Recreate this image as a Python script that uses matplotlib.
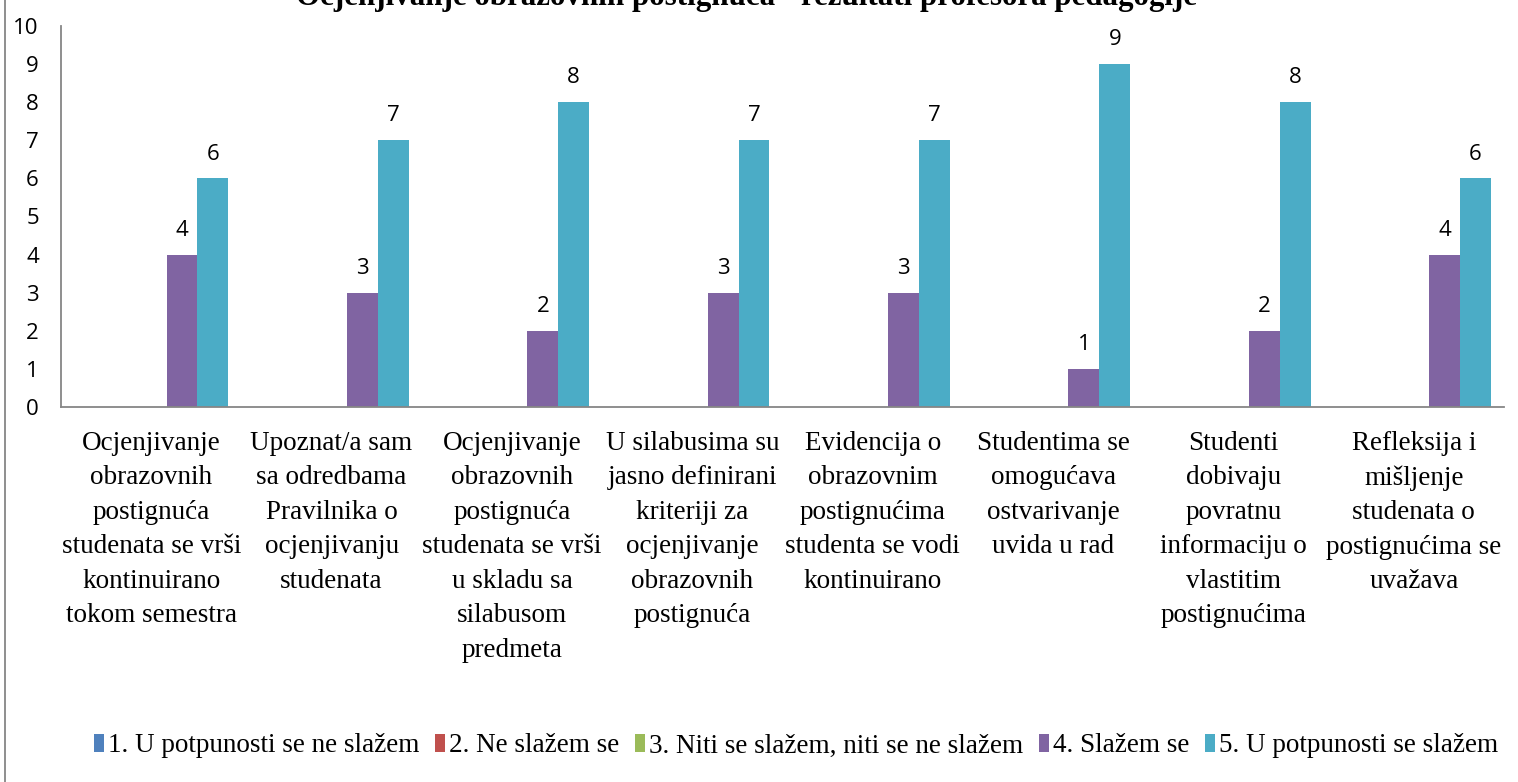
import matplotlib
matplotlib.use("Agg")
import matplotlib.pyplot as plt
import numpy as np
from matplotlib.patches import Patch
from matplotlib.lines import Line2D

categories = [
    "Ocjenjivanje\nobrazovnih\npostignuća\nstudenata se vrši\nkontinuirano\ntokom semestra",
    "Upoznat/a sam\nsa odredbama\nPravilnika o\nocjenjivanju\nstudenata",
    "Ocjenjivanje\nobrazovnih\npostignuća\nstudenata se vrši\nu skladu sa\nsilabusom\npredmeta",
    "U silabusima su\njasno definirani\nkriteriji za\nocjenjivanje\nobrazovnih\npostignuća",
    "Evidencija o\nobrazovnim\npostignućima\nstudenta se vodi\nkontinuirano",
    "Studentima se\nomogućava\nostvarivanje\nuvida u rad",
    "Studenti\ndobivaju\npovratnu\ninformaciju o\nvlastitim\npostignućima",
    "Refleksija i\nmišljenje\nstudenata o\npostignućima se\nuvažava",
]
series_names = [
    "1. U potpunosti se ne slažem",
    "2. Ne slažem se",
    "3. Niti se slažem, niti se ne slažem",
    "4. Slažem se",
    "5. U potpunosti se slažem",
]
s1 = [0, 0, 0, 0, 0, 0, 0, 0]
s2 = [0, 0, 0, 0, 0, 0, 0, 0]
s3 = [0, 0, 0, 0, 0, 0, 0, 0]
s4 = [4, 3, 2, 3, 3, 1, 2, 4]
s5 = [6, 7, 8, 7, 7, 9, 8, 6]
colors = ["#4F81BD", "#C0504D", "#9BBB59", "#8064A2", "#4BACC6"]
title = "Ocjenjivanje obrazovnih postignuća - rezultati profesora pedagogije"
yticks = [0, 1, 2, 3, 4, 5, 6, 7, 8, 9, 10]

W, H = 1518, 782
fig = plt.figure(figsize=(W / 100, H / 100), dpi=100)
ax = fig.add_axes([61 / W, 1 - 407 / H, (1504 - 61) / W, (407 - 26) / H])

serif = ["Liberation Serif", "DejaVu Serif"]
sans = ["Open Sans", "Liberation Sans", "DejaVu Sans"]

all_series = [s1, s2, s3, s4, s5]
x = np.arange(len(categories))
bw = 0.171
for i, (vals, col, name) in enumerate(zip(all_series, colors, series_names)):
    pos = x + (i - 2) * bw
    bars = ax.bar(pos, vals, width=bw, color=col, label=name)
    for b, v in zip(bars, vals):
        if v > 0:
            ax.annotate(str(v), (b.get_x() + b.get_width() / 2, v),
                        xytext=(0, 10), textcoords="offset points",
                        ha="center", va="bottom", fontsize=16, family=sans)

ax.set_xlim(-0.5, len(categories) - 0.5)
ax.set_ylim(0, 10)
ax.set_yticks(yticks)
ax.set_yticklabels([str(t) for t in yticks], family=sans, fontsize=16)
ax.set_xticks(x)
ax.set_xticklabels(categories, family=serif, fontsize=19.5, linespacing=1.5, va="top")
ax.tick_params(axis="both", length=0)
ax.tick_params(axis="y", pad=16)
ax.tick_params(axis="x", pad=17)
for sp in ["top", "right"]:
    ax.spines[sp].set_visible(False)
for sp in ["left", "bottom"]:
    ax.spines[sp].set_color("#868686")
    ax.spines[sp].set_linewidth(1.3)

fig.text(746 / W, 1 - 5 / H, title, ha="center", va="baseline",
         family=serif, fontsize=22.3, fontweight="bold")

# figure border (left)
fig.add_artist(Line2D([5 / W, 5 / W], [0, 1], color="#868686", lw=1.3,
                      transform=fig.transFigure))

handles = [Patch(facecolor=c, label=n) for c, n in zip(colors, series_names)]
fig.legend(handles=handles, loc="center", bbox_to_anchor=(796 / W, 1 - 746 / H),
           ncol=5, frameon=False, prop={"family": serif, "size": 19.5},
           handlelength=0.35, handleheight=0.6, handletextpad=0.15,
           columnspacing=0.6)

fig.savefig("out.png", dpi=100)
